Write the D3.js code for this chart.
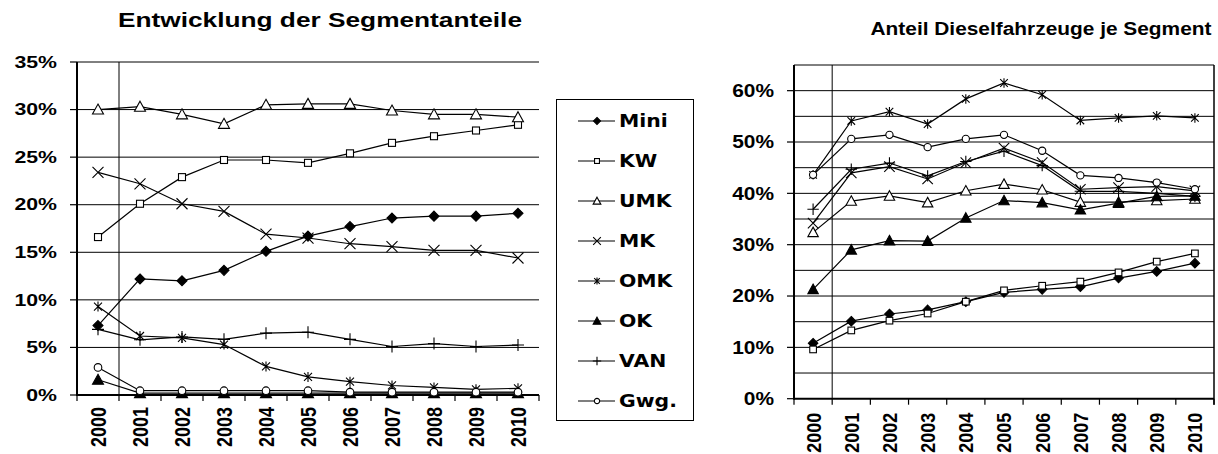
<!DOCTYPE html>
<html>
<head>
<meta charset="utf-8">
<script src="https://cdn.jsdelivr.net/npm/d3@7"></script>
<style>
  body { margin: 0; background: #fff; }
  svg { display: block; }
</style>
</head>
<body>
<svg id="chart" width="1218" height="454"></svg>
<script>
// ---- data -------------------------------------------------------------
const years = ["2000", "2001", "2002", "2003", "2004", "2005", "2006", "2007", "2008", "2009", "2010"];
const segments = ["Mini", "KW", "UMK", "MK", "OMK", "OK", "VAN", "Gwg."];

// share of new registrations per segment, in %
const shareMini = [7.3, 12.2, 12.0, 13.1, 15.1, 16.7, 17.7, 18.6, 18.8, 18.8, 19.1];
const shareKW   = [16.6, 20.1, 22.9, 24.7, 24.7, 24.4, 25.4, 26.5, 27.2, 27.8, 28.4];
const shareUMK  = [30.0, 30.3, 29.5, 28.5, 30.5, 30.6, 30.6, 29.9, 29.5, 29.5, 29.2];
const shareMK   = [23.4, 22.2, 20.1, 19.3, 16.9, 16.5, 15.9, 15.6, 15.2, 15.2, 14.4];
const shareOMK  = [9.3, 6.2, 6.0, 5.3, 3.0, 1.9, 1.4, 1.0, 0.8, 0.6, 0.7];
const shareOK   = [1.6, 0.2, 0.2, 0.2, 0.2, 0.2, 0.2, 0.2, 0.2, 0.2, 0.2];
const shareVAN  = [6.9, 5.8, 6.1, 5.85, 6.5, 6.6, 5.85, 5.1, 5.4, 5.1, 5.25];
const shareGwg  = [2.9, 0.45, 0.45, 0.45, 0.45, 0.45, 0.3, 0.3, 0.3, 0.3, 0.3];

// share of diesel cars within each segment, in %
const dieselMini = [10.8, 15.1, 16.5, 17.3, 18.9, 20.7, 21.3, 21.8, 23.5, 24.8, 26.4];
const dieselKW   = [9.6, 13.3, 15.2, 16.6, 18.9, 21.1, 22.0, 22.8, 24.6, 26.7, 28.3];
const dieselUMK  = [32.4, 38.5, 39.5, 38.2, 40.5, 41.8, 40.7, 38.3, 38.3, 38.6, 38.9];
const dieselMK   = [34.2, 44.0, 45.2, 42.8, 46.0, 48.8, 46.0, 40.8, 41.1, 41.3, 40.5];
const dieselOMK  = [43.6, 54.1, 55.9, 53.5, 58.4, 61.5, 59.2, 54.2, 54.7, 55.1, 54.7];
const dieselOK   = [21.3, 29.0, 30.8, 30.7, 35.2, 38.6, 38.2, 36.8, 38.1, 39.4, 39.5];
const dieselVAN  = [36.9, 44.7, 45.9, 43.4, 46.2, 48.2, 45.4, 40.4, 40.4, 40.0, 39.4];
const dieselGwg  = [43.6, 50.6, 51.4, 49.0, 50.6, 51.4, 48.3, 43.5, 43.0, 42.1, 40.8];

const shareTicks  = [0, 5, 10, 15, 20, 25, 30, 35];
const shareGrid   = [5, 10, 15, 20, 25, 30, 35];
const dieselTicks = [0, 10, 20, 30, 40, 50, 60];
const dieselGrid  = [5, 10, 15, 20, 25, 30, 35, 40, 45, 50, 55, 60, 65];

const markerTypes = ["diamond", "square", "triangle", "x", "asterisk", "triangleFilled", "plus", "circle"];

// ---- helpers ----------------------------------------------------------
const svg = d3.select("#chart");
const labelFont = "'Liberation Sans', Arial, sans-serif";

function wideText(parent, x, y, str, opt) {
  const t = parent.append("text")
    .attr("transform", `translate(${x},${y}) scale(${opt.sx},1)` + (opt.rotate ? ` rotate(${opt.rotate})` : ""))
    .attr("font-family", opt.family || labelFont)
    .attr("font-weight", "bold")
    .attr("font-size", opt.size)
    .attr("text-anchor", opt.anchor || "start")
    .attr("fill", "#000")
    .text(str);
  if (opt.central) t.attr("dominant-baseline", "central");
  return t;
}

function drawMarker(g, type, x, y, k) {
  const s = k || 1;
  const m = g.append("g").attr("transform", `translate(${x},${y}) scale(${s})`);
  const stroke = { stroke: "#000", "stroke-width": 1.1 / s };
  const apply = (el, a) => { for (const key in a) el.attr(key, a[key]); return el; };
  switch (type) {
    case "diamond":
      apply(m.append("path").attr("d", "M0,-5L5,0L0,5L-5,0Z").attr("fill", "#000"), stroke);
      break;
    case "square":
      apply(m.append("rect").attr("x", -3.5).attr("y", -3.5).attr("width", 7).attr("height", 7).attr("fill", "#fff"), stroke);
      break;
    case "triangle":
      apply(m.append("path").attr("d", "M0,-5.5L5.5,4.5L-5.5,4.5Z").attr("fill", "#fff"), stroke);
      break;
    case "triangleFilled":
      apply(m.append("path").attr("d", "M0,-5.5L5.5,4.5L-5.5,4.5Z").attr("fill", "#000"), stroke);
      break;
    case "x":
      apply(m.append("path").attr("d", "M-5.5,-5.5L5.5,5.5M-5.5,5.5L5.5,-5.5").attr("fill", "none"), stroke);
      break;
    case "asterisk":
      apply(m.append("path").attr("d", "M-4,-4L4,4M-4,4L4,-4M0,-5L0,5").attr("fill", "none"), stroke);
      break;
    case "plus":
      apply(m.append("path").attr("d", "M-6,0L6,0M0,-6L0,6").attr("fill", "none"), stroke);
      break;
    case "circle":
      apply(m.append("circle").attr("r", 3.8).attr("fill", "#fff"), stroke);
      break;
  }
}

function drawChart(cfg) {
  const g = svg.append("g");
  const x = d3.scaleBand().domain(years).range([cfg.left, cfg.right]);
  const y = d3.scaleLinear().domain([0, cfg.max]).range([cfg.bottom, cfg.top]);

  // horizontal gridlines
  g.selectAll(".grid").data(cfg.grid).join("line")
    .attr("x1", cfg.left).attr("x2", cfg.right)
    .attr("y1", d => y(d)).attr("y2", d => y(d))
    .attr("stroke", "#000").attr("stroke-width", 1);

  if (cfg.frame) {
    g.append("line").attr("x1", cfg.right).attr("x2", cfg.right)
      .attr("y1", cfg.top).attr("y2", cfg.bottom + 6)
      .attr("stroke", "#000").attr("stroke-width", 1.5);
  }

  // separator between the first year and the rest
  const sepX = x(years[1]);
  g.append("line").attr("x1", sepX).attr("x2", sepX)
    .attr("y1", cfg.top).attr("y2", cfg.bottom)
    .attr("stroke", "#000").attr("stroke-width", 1);

  // x axis with ticks between categories
  const bounds = years.map(d => x(d)).concat([cfg.right]);
  g.selectAll(".xt").data(bounds).join("line")
    .attr("x1", d => d).attr("x2", d => d)
    .attr("y1", cfg.bottom).attr("y2", cfg.bottom + 6)
    .attr("stroke", "#000").attr("stroke-width", 1.2);
  g.append("line").attr("x1", cfg.left).attr("x2", cfg.right)
    .attr("y1", cfg.bottom).attr("y2", cfg.bottom)
    .attr("stroke", "#000").attr("stroke-width", 2);

  // y axis
  g.append("line").attr("x1", cfg.left).attr("x2", cfg.left)
    .attr("y1", cfg.top).attr("y2", cfg.bottom + 1)
    .attr("stroke", "#000").attr("stroke-width", 2);
  g.selectAll(".yt").data(cfg.ticks).join("line")
    .attr("x1", cfg.left - 7).attr("x2", cfg.left)
    .attr("y1", d => y(d)).attr("y2", d => y(d))
    .attr("stroke", "#000").attr("stroke-width", 1.2);
  cfg.ticks.forEach(d => wideText(g, cfg.left - 20, y(d), d + "%",
    { size: cfg.labelSize, sx: cfg.sx, anchor: "end", central: true }));

  // year labels
  years.forEach(d => wideText(g, x(d) + x.bandwidth() / 2, cfg.bottom + cfg.yearGap, d,
    { size: 18, sx: cfg.sx, anchor: "end", central: true, rotate: -90 }));

  // title
  wideText(g, cfg.titleX, cfg.titleY, cfg.title, { size: cfg.titleSize, sx: cfg.sx, anchor: "middle" });

  // series
  const line = d3.line().x((d, i) => x(years[i]) + x.bandwidth() / 2).y(d => y(d));
  cfg.series.forEach(values => {
    g.append("path").datum(values).attr("d", line)
      .attr("fill", "none").attr("stroke", "#000").attr("stroke-width", 1.2);
  });
  cfg.series.forEach((values, si) => {
    values.forEach((v, i) => drawMarker(g, markerTypes[si], x(years[i]) + x.bandwidth() / 2, y(v), cfg.markerScale));
  });
}

// ---- left chart: segment shares --------------------------------------
drawChart({
  left: 77, right: 539, top: 62, bottom: 395, max: 35,
  grid: shareGrid, ticks: shareTicks, frame: false,
  sx: 1.25, labelSize: 17, yearGap: 12,
  title: "Entwicklung der Segmentanteile", titleX: 320, titleY: 27, titleSize: 21,
  series: [shareMini, shareKW, shareUMK, shareMK, shareOMK, shareOK, shareVAN, shareGwg],
  markerScale: 1
});

// ---- right chart: diesel share per segment ---------------------------
drawChart({
  left: 794, right: 1214, top: 65, bottom: 398.7, max: 65,
  grid: dieselGrid, ticks: dieselTicks, frame: true,
  sx: 1.16, labelSize: 18, yearGap: 14,
  title: "Anteil Dieselfahrzeuge je Segment", titleX: 1041, titleY: 35, titleSize: 18,
  series: [dieselMini, dieselKW, dieselUMK, dieselMK, dieselOMK, dieselOK, dieselVAN, dieselGwg],
  markerScale: 0.95
});

// ---- legend -----------------------------------------------------------
const legend = svg.append("g");
legend.append("rect").attr("x", 556.5).attr("y", 99.5).attr("width", 137).attr("height", 321)
  .attr("fill", "#fff").attr("stroke", "#000").attr("stroke-width", 1);
const legendY = d3.scalePoint().domain(segments).range([121, 401]);
segments.forEach((name, i) => {
  const yy = legendY(name);
  legend.append("line").attr("x1", 578).attr("x2", 615).attr("y1", yy).attr("y2", yy)
    .attr("stroke", "#000").attr("stroke-width", 1.2);
  drawMarker(legend, markerTypes[i], 597, yy, 0.7);
  wideText(legend, 619, yy, name, { size: 17, central: true, sx: 1.2, family: "'DejaVu Sans', Verdana, sans-serif" });
});
</script>
</body>
</html>
